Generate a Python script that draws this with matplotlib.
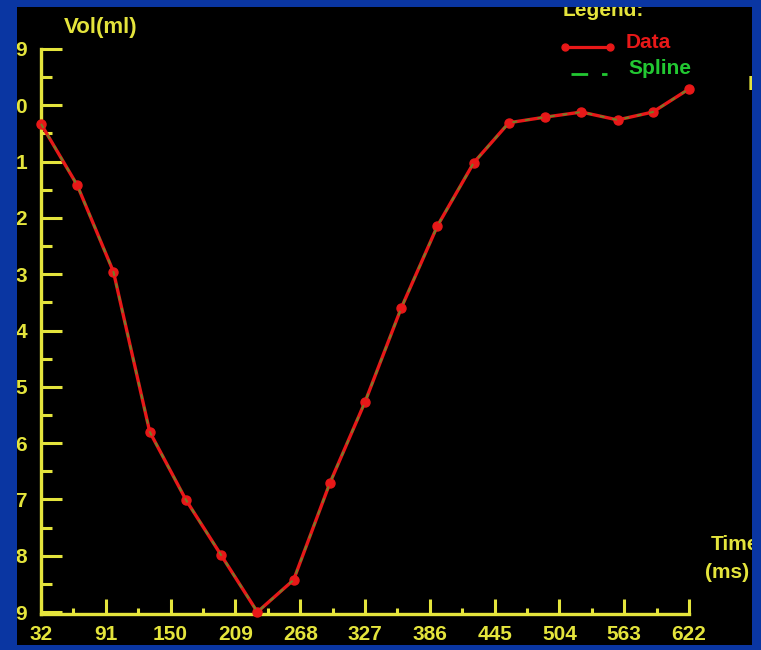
import matplotlib
matplotlib.use("Agg")
import matplotlib.pyplot as plt
from matplotlib.lines import Line2D
from matplotlib.patches import Rectangle

# ---- data ----
time_ms = [32, 65, 98, 131, 164, 196, 229, 262, 295, 327, 360, 393, 426, 458, 491, 524, 557, 589, 622]
vol_pos = [1.33, 2.42, 3.96, 6.80, 8.01, 8.99, 10.0, 9.43, 7.71, 6.27, 4.60, 3.14, 2.02, 1.31, 1.21, 1.12, 1.26, 1.12, 0.71]
spline_pos = vol_pos
x_ticks = [32, 91, 150, 209, 268, 327, 386, 445, 504, 563, 622]
y_ticks = [0, 1, 2, 3, 4, 5, 6, 7, 8, 9, 10]
y_tick_labels = ["9", "0", "1", "2", "3", "4", "5", "6", "7", "8", "9"]

BLUE = "#0a36a2"
YEL = "#e4e43c"
RED = "#e81818"
GRN = "#22c832"
FONT = "Liberation Sans"

W, H = 761, 650
fig = plt.figure(figsize=(W / 100, H / 100), dpi=100, facecolor=BLUE)

# black panel
px0, px1, py0, py1 = 17, 752, 7, 645
bg = fig.add_axes([px0 / W, 1 - py1 / H, (px1 - px0) / W, (py1 - py0) / H])
bg.set_facecolor("black")
bg.set_xticks([]); bg.set_yticks([])
for s in bg.spines.values():
    s.set_visible(False)
bg.set_zorder(0)

def bgc(px, py):
    return ((px - px0) / (px1 - px0), (py1 - py) / (py1 - py0))

# main axes
ax_l, ax_r, ax_t, ax_b = 41, 689, 49, 614
ax = fig.add_axes([ax_l / W, 1 - ax_b / H, (ax_r - ax_l) / W, (ax_b - ax_t) / H])
ax.set_zorder(1)
ax.patch.set_alpha(0)
ax.set_xlim(32, 622)
ax.set_ylim(10 + 2 / 56.3, 0)

for side in ("top", "right"):
    ax.spines[side].set_visible(False)
for side in ("left", "bottom"):
    ax.spines[side].set_color(YEL)
    ax.spines[side].set_linewidth(2.4)

ax.set_xticks(x_ticks)
ax.set_xticks([(a + b) / 2 for a, b in zip(x_ticks[:-1], x_ticks[1:])], minor=True)
ax.set_yticks(y_ticks)
ax.set_yticklabels(y_tick_labels)
ax.set_yticks([v + 0.5 for v in y_ticks[:-1]], minor=True)

ax.tick_params(axis="x", which="major", direction="in", length=11, width=2.2, color=YEL,
               labelcolor=YEL, labelsize=15, pad=8)
ax.tick_params(axis="x", which="minor", direction="in", length=4.5, width=2.2, color=YEL)
ax.tick_params(axis="y", which="major", direction="in", length=15, width=2.2, color=YEL,
               labelcolor=YEL, labelsize=15, pad=10)
ax.tick_params(axis="y", which="minor", direction="in", length=8, width=2.2, color=YEL)
for lab in ax.get_xticklabels() + ax.get_yticklabels():
    lab.set_fontfamily(FONT)
    lab.set_fontweight("bold")

# series
ax.plot(time_ms, vol_pos, color=RED, lw=2.4, marker="o", ms=6.5, mfc=RED, mec=RED,
        clip_on=False, zorder=3)
ax.plot(time_ms, spline_pos, color=GRN, lw=1.4, ls=(0, (2.5, 4)), alpha=0.6,
        clip_on=False, zorder=4)

# texts (clipped to the black panel)
tk = dict(transform=bg.transAxes, fontfamily=FONT, fontweight="bold", fontsize=15)
texts = [
    bg.text(*bgc(101, 27), "Vol(ml)", color=YEL, ha="center", va="center", **{**tk, "fontsize": 16}),
    bg.text(*bgc(711, 545), "Time", color=YEL, ha="left", va="center", **tk),
    bg.text(*bgc(705, 573), "(ms)", color=YEL, ha="left", va="center", **tk),
    bg.text(*bgc(563, 11), "Legend:", color=YEL, ha="left", va="center", **tk),
    bg.text(*bgc(626, 43), "Data", color=RED, ha="left", va="center", **tk),
    bg.text(*bgc(628, 68), "Spline", color=GRN, ha="left", va="center", **tk),
    bg.text(*bgc(748, 84), "I", color=YEL, ha="left", va="center", **tk),
]
for t in texts:
    t.set_clip_on(True)
    t.set_clip_box(bg.bbox)

# legend handles
x1, y1 = bgc(565, 47)
x2, y2 = bgc(610, 47)
bg.add_line(Line2D([x1, x2], [y1, y2], transform=bg.transAxes, color=RED, lw=2.3,
                   marker="o", ms=5, mfc=RED, mec=RED))
x1, y1 = bgc(571, 74)
x2, y2 = bgc(607, 74)
bg.add_line(Line2D([x1, x2], [y1, y2], transform=bg.transAxes, color=GRN, lw=2,
                   ls=(0, (6, 5))))

# blue frame drawn over anything spilling outside the black panel
frame = [
    (0, 0, W, py0),            # top
    (0, py1, W, H - py1),      # bottom
    (0, 0, px0, H),            # left
    (px1, 0, W - px1, H),      # right
]
for fx, fy, fw, fh in frame:
    fig.add_artist(Rectangle((fx / W, 1 - (fy + fh) / H), fw / W, fh / H,
                             transform=fig.transFigure, facecolor=BLUE,
                             edgecolor="none", zorder=10))

fig.savefig("out.png", dpi=100, facecolor=BLUE)
